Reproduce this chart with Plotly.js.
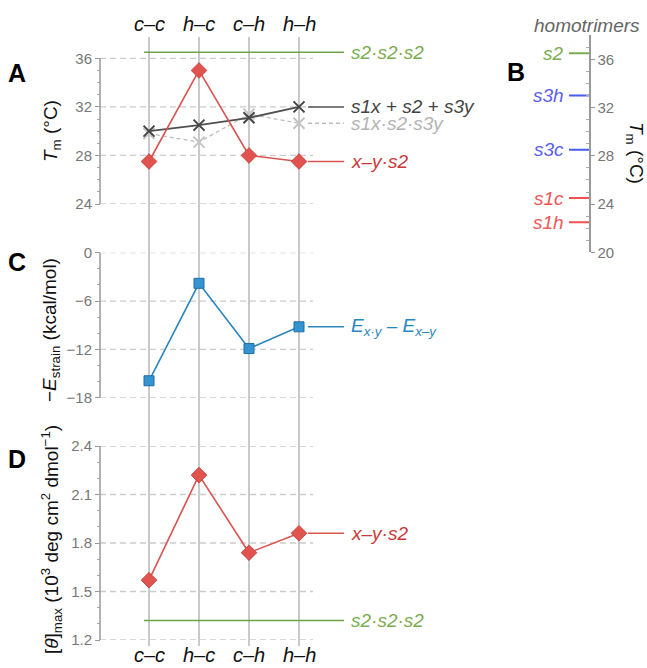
<!DOCTYPE html>
<html><head><meta charset="utf-8">
<script src="https://cdn.plot.ly/plotly-3.0.1.min.js"></script>
<style>html,body{margin:0;padding:0;background:#fff}</style>
</head><body><div id="chart" style="width:647px;height:668px"></div>
<script>
// ---- data ----
const categories = ['c–c', 'h–c', 'c–h', 'h–h'];
const tmXYS2 = [27.5, 35.0, 28.0, 27.5];
const tmSum = [30.0, 30.5, 31.1, 32.0];
const tmProduct = [29.8, 29.1, 31.4, 30.65];
const tmS2S2S2 = 36.5;
const strainDiff = [-15.9, -3.8, -11.9, -9.2];
const thetaXYS2 = [1.57, 2.22, 1.74, 1.86];
const thetaS2S2S2 = 1.32;
const homoNames = ['s2', 's3h', 's3c', 's1c', 's1h'];
const homoTm = [36.5, 33.0, 28.5, 24.5, 22.5];
const tmTicks = [24, 28, 32, 36];
const strainTicks = [-18, -12, -6, 0];
const thetaTicks = [1.2, 1.5, 1.8, 2.1, 2.4];
const homoTicks = [20, 24, 28, 32, 36];

// ---- styling / geometry ----
const W = 647, H = 668;
const FONT = 'Liberation Sans, Arial, sans-serif';
const xIdx = categories.map((c, i) => i);
const pxX = p => (p - 149) / 50;          // pixel -> x-axis units
const py = p => 1 - p / H;                 // pixel -> paper y
const dom = (b, t) => [py(b), py(t)];
const axisX = pxX(100), gridEnd = pxX(313), connStart = pxX(308), connEnd = pxX(344), labelX = pxX(349);
const refStart = pxX(144);
const GREEN = '#6fa547', GREEN_T = '#7cad52', RED = '#d9534f', RED_T = '#c83a3a';
const DARK = '#505050', LIGHT = '#bdbdbd', BLUE = '#2a86bf';
const homoColors = ['#7cad52', '#4a5cf0', '#4a5cf0', '#f05252', '#f05252'];
const homoText = ['#7cad52', '#5a5ef0', '#5a5ef0', '#f05656', '#f05656'];
const LBL = 19;

function minorBetween(ticks, step) {
  const out = [];
  for (let i = 0; i < ticks.length - 1; i++) {
    for (let v = ticks[i] + step; v < ticks[i + 1] - step / 2; v += step) out.push(+v.toFixed(3));
  }
  return out;
}

const tickfont = {family: FONT, size: 15, color: '#777'};
function yax(domain, range, ticks, minorStep, position) {
  return {
    domain, range, anchor: 'free', position,
    tickmode: 'array', tickvals: ticks, ticks: 'outside', ticklen: 5, tickwidth: 1, tickcolor: '#999',
    minor: {tickmode: 'array', tickvals: minorBetween(ticks, minorStep), ticks: 'outside', ticklen: 3, tickwidth: 1, tickcolor: '#aaa'},
    showgrid: false, zeroline: false, showline: false, tickfont, fixedrange: true
  };
}

const traces = [
  {x: xIdx, y: tmProduct, xaxis: 'x', yaxis: 'y', mode: 'lines+markers',
   line: {color: LIGHT, width: 1.3, dash: '4px,3px'},
   marker: {symbol: 'x-thin-open', size: 11, color: '#c4c4c4', line: {width: 2, color: '#c4c4c4'}}},
  {x: xIdx, y: tmSum, xaxis: 'x', yaxis: 'y', mode: 'lines+markers',
   line: {color: DARK, width: 1.8},
   marker: {symbol: 'x-thin-open', size: 11, color: '#454545', line: {width: 2, color: '#454545'}}},
  {x: xIdx, y: tmXYS2, xaxis: 'x', yaxis: 'y', mode: 'lines+markers',
   line: {color: RED, width: 1.6},
   marker: {symbol: 'diamond', size: 12, color: '#e0534e', line: {width: 1, color: '#c94440'}}},
  {x: xIdx, y: strainDiff, xaxis: 'x', yaxis: 'y2', mode: 'lines+markers',
   line: {color: BLUE, width: 1.6},
   marker: {symbol: 'square', size: 10, color: '#3394cf', line: {width: 1, color: '#1f6fa5'}}},
  {x: xIdx, y: thetaXYS2, xaxis: 'x', yaxis: 'y3', mode: 'lines+markers',
   line: {color: RED, width: 1.6},
   marker: {symbol: 'diamond', size: 12, color: '#e0534e', line: {width: 1, color: '#c94440'}}},
  {x: homoTm.map(() => pxX(579)), y: homoTm, xaxis: 'x', yaxis: 'y4', mode: 'markers',
   marker: {symbol: 'line-ew', size: 14.3, color: homoColors, line: {width: 2, color: homoColors}}}
];

const shapes = [];
xIdx.forEach(i => shapes.push({type: 'line', xref: 'x', yref: 'paper', x0: i, x1: i, y0: py(646), y1: py(37),
  line: {color: '#c9c9c9', width: 2}, layer: 'below'}));
[['y', tmTicks], ['y2', strainTicks], ['y3', thetaTicks]].forEach(([ya, ticks]) => {
  ticks.forEach(t => shapes.push({type: 'line', xref: 'x', yref: ya, x0: axisX, x1: gridEnd, y0: t, y1: t,
    line: {color: '#cccccc', width: 1.3, dash: '6px,4px'}, layer: 'below'}));
  shapes.push({type: 'line', xref: 'x', yref: ya, x0: axisX, x1: axisX, y0: ticks[0], y1: ticks[ticks.length - 1],
    line: {color: '#9a9a9a', width: 1.5}, layer: 'above'});
});
shapes.push({type: 'line', xref: 'x', yref: 'y', x0: refStart, x1: connEnd, y0: tmS2S2S2, y1: tmS2S2S2, line: {color: GREEN, width: 1.5}});
shapes.push({type: 'line', xref: 'x', yref: 'y3', x0: refStart, x1: connEnd, y0: thetaS2S2S2, y1: thetaS2S2S2, line: {color: GREEN, width: 1.5}});
const last = a => a[a.length - 1];
[['y', last(tmSum), DARK, 'solid'], ['y', last(tmProduct), LIGHT, '4px,3px'], ['y', last(tmXYS2), RED, 'solid'],
 ['y2', last(strainDiff), BLUE, 'solid'], ['y3', last(thetaXYS2), RED, 'solid']].forEach(([ya, v, c, d]) =>
  shapes.push({type: 'line', xref: 'x', yref: ya, x0: connStart, x1: connEnd, y0: v, y1: v, line: {color: c, width: 1.5, dash: d}}));

const ann = [];
const lab = (text, ya, y, color) => ann.push({text: '<i>' + text + '</i>', xref: 'x', yref: ya, x: labelX, y,
  xanchor: 'left', yanchor: 'middle', showarrow: false, font: {family: FONT, size: LBL, color}});
lab('s2·s2·s2', 'y', tmS2S2S2, GREEN_T);
lab('s1x + s2 + s3y', 'y', last(tmSum), '#444');
lab('s1x·s2·s3y', 'y', last(tmProduct), '#b3b3b3');
lab('x–y·s2', 'y', last(tmXYS2), RED_T);
lab('E<sub>x·y</sub> – E<sub>x–y</sub>', 'y2', last(strainDiff), BLUE);
lab('x–y·s2', 'y3', last(thetaXYS2), RED_T);
lab('s2·s2·s2', 'y3', thetaS2S2S2, GREEN_T);
categories.forEach((c, i) => {
  [[24, 'middle'], [668, 'bottom']].forEach(([p, anc]) => ann.push({text: '<i>' + c + '</i>', xref: 'x', yref: 'paper', x: i, y: py(p),
    xanchor: 'center', yanchor: anc, showarrow: false, font: {family: FONT, size: 20, color: '#111'}}));
});
homoNames.forEach((n, i) => ann.push({text: '<i>' + n + '</i>', xref: 'x', yref: 'y4', x: pxX(566), y: homoTm[i],
  xanchor: 'right', yanchor: 'middle', showarrow: false, font: {family: FONT, size: LBL, color: homoText[i]}}));
ann.push({text: '<i>homotrimers</i>', xref: 'paper', yref: 'paper', x: 587 / W, y: py(25), xanchor: 'center', yanchor: 'middle',
  showarrow: false, font: {family: FONT, size: 19, color: '#666'}});
[['A', 17, 73], ['B', 516, 72], ['C', 17, 262], ['D', 17, 459]].forEach(([t, x, y]) => ann.push({text: '<b>' + t + '</b>',
  xref: 'paper', yref: 'paper', x: x / W, y: py(y), xanchor: 'center', yanchor: 'middle', showarrow: false,
  font: {family: FONT, size: 25, color: '#000'}}));
const atitle = (text, x, y, angle) => ann.push({text, xref: 'paper', yref: 'paper', x: x / W, y: py(y), textangle: angle,
  xanchor: 'center', yanchor: 'middle', showarrow: false, font: {family: FONT, size: 19, color: '#111'}});
atitle('<i>T</i><sub>m</sub> (°C)', 52, 131, -90);
atitle('−<i>E</i><sub>strain</sub> (kcal/mol)', 51, 330, -90);
atitle('[<i>θ</i>]<sub>max</sub> (10<sup>3</sup> deg cm<sup>2</sup> dmol<sup>−1</sup>)', 51, 540, -90);
atitle('<i>T</i><sub>m</sub> (°C)', 635, 153, 90);

const yB = yax(dom(252.3, 252.3 - 18 * 12.06), [20, 38], homoTicks, 1, 589 / W);
yB.side = 'right'; yB.showline = true; yB.linecolor = '#9a9a9a'; yB.linewidth = 1.5; yB.ticklen = 4;
yB.minor.ticks = 'inside'; yB.minor.tickvals = minorBetween(homoTicks.concat([40]), 1).filter(v => v < 38);

const layout = {
  width: W, height: H, margin: {l: 0, r: 0, t: 0, b: 0}, showlegend: false,
  paper_bgcolor: '#fff', plot_bgcolor: 'rgba(0,0,0,0)', font: {family: FONT},
  xaxis: {domain: [0, 1], range: [pxX(0), pxX(W)], visible: false, fixedrange: true},
  yaxis: yax(dom(204, 204 - 13 * 12.14), [24, 37], tmTicks, 1, 100 / W),
  yaxis2: yax(dom(397.7, 252.7), [-18, 0], strainTicks, 2, 100 / W),
  yaxis3: yax(dom(640, 446), [1.2, 2.4], thetaTicks, 0.1, 100 / W),
  yaxis4: yB,
  shapes, annotations: ann
};
Plotly.newPlot('chart', traces, layout, {staticPlot: true, displayModeBar: false});
</script></body></html>
